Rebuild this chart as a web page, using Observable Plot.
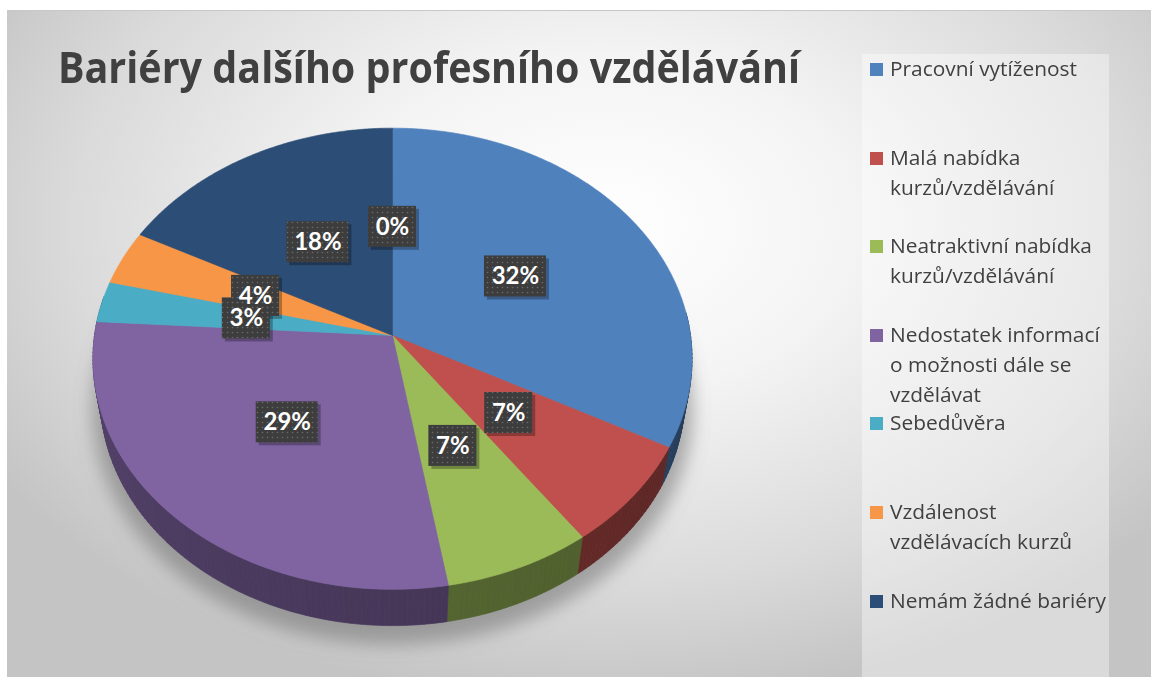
<!DOCTYPE html>
<html>
<head>
<meta charset="utf-8">
<script src="https://cdn.jsdelivr.net/npm/d3@7"></script>
<script src="https://cdn.jsdelivr.net/npm/@observablehq/plot@0.6"></script>
<style>
  html, body { margin: 0; padding: 0; background: #ffffff; }
  #wrap { position: relative; width: 1151px; height: 677px; overflow: hidden; background: #ffffff; }
  #frame { position: absolute; left: 7px; top: 10px; width: 1144px; height: 667px;
    border-top: 1px solid #c8c8c8;
    background: radial-gradient(ellipse 62% 72% at 52% 32%, #ffffff 0%, #f4f4f4 35%, #dadada 75%, #c4c4c4 100%); }
  #panel { position: absolute; left: 862px; top: 54px; width: 247px; height: 623px; background: rgba(255,255,255,0.38); }
  #chart { position: absolute; left: 0; top: 0; }
  #title { position: absolute; left: 58px; top: 45px; font-family: "Open Sans", sans-serif; font-weight: 700;
    font-size: 43px; line-height: 43px; color: #404040; white-space: nowrap; transform-origin: 0 0; }
  #legend { position: absolute; left: 870px; top: 54px; font-family: "Open Sans", sans-serif; font-size: 20px;
    line-height: 30px; color: #404040; }
  .item { position: absolute; left: 0; height: 89px; }
  .sw { position: absolute; left: 0; top: 9px; width: 13px; height: 13px; }
  .txt { position: absolute; left: 20px; top: 0; white-space: pre; transform-origin: 0 0; }
</style>
</head>
<body>
<div id="wrap">
  <div id="frame"></div>
  <div id="panel"></div>
  <div id="chart"></div>
  <div id="title"></div>
  <div id="legend"></div>
</div>
<script>
// ---------------- data ----------------
const title = "Bariéry dalšího profesního vzdělávání";
const categories = [
  "Pracovní vytíženost",
  "Malá nabídka\nkurzů/vzdělávání",
  "Neatraktivní nabídka\nkurzů/vzdělávání",
  "Nedostatek informací\no možnosti dále se\nvzdělávat",
  "Sebedůvěra",
  "Vzdálenost\nvzdělávacích kurzů",
  "Nemám žádné bariéry",
  ""
];
const values = [32, 7, 7, 29, 3, 4, 18, 0];
const colors = ["#4F81BD", "#C0504D", "#9BBB59", "#8064A2", "#4BACC6", "#F79646", "#2C4D75", "#772C2A"];
const inLegend = [true, true, true, true, true, true, true, false];

// ---------------- geometry (3D perspective pie) ----------------
const W = 1151, H = 677;
const cx = 392, cy = 335, R = 298, tilt = 50 * Math.PI / 180, D = 1900, depth = 62;
const deg = Math.PI / 180;
function warp(t) { // slight perspective distortion of the viewing camera
  return t + 5 * deg * (1 - Math.cos(t)) / 2 - 1 * deg * Math.sin(t);
}
function proj(theta, r, z) {
  const t = warp(theta);
  const X = r * Math.sin(t), Y = -r * Math.cos(t);
  const v = Y * Math.sin(tilt) - z * Math.cos(tilt);
  const w = Y * Math.cos(tilt) + z * Math.sin(tilt);
  const s = D / (D - w);
  return [cx + X * s, cy + v * s];
}
const total = d3.sum(values);
let acc = 0;
const slices = values.map((v, i) => {
  const a0 = acc / total * 2 * Math.PI; acc += v;
  const a1 = acc / total * 2 * Math.PI;
  return {i, v, a0, a1, mid: v > 0 ? (a0 + a1) / 2 : a0};
});

const step = deg;
// shadow under the pie
const shadowRows = [];
for (let k = 0; k <= 360; k++) {
  const [x, y] = proj(k * step, R * 1.03, -depth - 8);
  shadowRows.push({id: "sh", x, y: y + 6});
}
// side walls (front facing part)
const sideRows = [];
const visLo = Math.PI / 2 - 0.12, visHi = 3 * Math.PI / 2 + 0.12;
slices.forEach(s => {
  if (s.v <= 0) return;
  const lo = Math.max(s.a0, visLo), hi = Math.min(s.a1, visHi);
  if (hi <= lo) return;
  const n = Math.max(1, Math.ceil((hi - lo) / step));
  for (let k = 0; k < n; k++) {
    const t0 = lo + (hi - lo) * k / n, t1 = lo + (hi - lo) * (k + 1) / n;
    const tm = (t0 + t1) / 2;
    const f = 1.15 + 1.0 * Math.min(1, Math.max(0, (3 * Math.PI / 2 - tm) / Math.PI));
    const c = d3.color(colors[s.i]).darker(f).formatHex();
    const id = "s" + s.i + "_" + k;
    const pts = [proj(t0, R, 0), proj(t1, R, 0), proj(t1, R, -depth), proj(t0, R, -depth), proj(t0, R, 0)];
    pts.forEach(([x, y]) => sideRows.push({id, x, y, c}));
  }
});
// top faces
const topRows = [];
slices.forEach(s => {
  if (s.v <= 0) return;
  const n = Math.max(2, Math.ceil((s.a1 - s.a0) / (step / 2)));
  const [hx, hy] = proj(0, 0, 0);
  topRows.push({id: "t" + s.i, x: hx, y: hy, c: colors[s.i]});
  for (let k = 0; k <= n; k++) {
    const t = s.a0 + (s.a1 - s.a0) * k / n;
    const [x, y] = proj(t, R, 0);
    topRows.push({id: "t" + s.i, x, y, c: colors[s.i]});
  }
  topRows.push({id: "t" + s.i, x: hx, y: hy, c: colors[s.i]});
});
// data labels
const labels = slices.map(s => {
  const [x, y] = proj(s.mid, R * 0.5, 0);
  const text = s.v + "%";
  const hw = (20 + 14 * text.length) / 2, hh = 20.5;
  return {x, y, text, x1: x - hw, x2: x + hw, y1: y - hh, y2: y + hh};
});

// ---------------- plot ----------------
const plot = Plot.plot({
  width: W, height: H, margin: 0,
  x: {domain: [0, W], range: [0, W], axis: null},
  y: {domain: [0, H], range: [0, H], axis: null},
  color: {type: "identity"},
  style: {background: "transparent"},
  marks: [
    Plot.line(shadowRows, {x: "x", y: "y", z: "id", fill: "#6e6e6e", fillOpacity: 0.55, stroke: "none"}),
    Plot.line(sideRows, {x: "x", y: "y", z: "id", fill: "c", stroke: "c", strokeWidth: 0.7, curve: "linear"}),
    Plot.line(topRows, {x: "x", y: "y", z: "id", fill: "c", stroke: "c", strokeWidth: 0.6, curve: "linear"}),
    Plot.rect(labels, {x1: d => d.x1 + 3, x2: d => d.x2 + 3, y1: d => d.y1 + 3, y2: d => d.y2 + 3, fill: "#000000", fillOpacity: 0.28}),
    Plot.rect(labels, {x1: "x1", x2: "x2", y1: "y1", y2: "y2", fill: "#3d3d3d"}),
    Plot.rect(labels, {x1: "x1", x2: "x2", y1: "y1", y2: "y2", fill: "url(#dots)"}),
    Plot.text(labels, {x: "x", y: "y", text: "text", fill: "#ffffff", fontSize: 24, fontWeight: 700, fontFamily: "Lato, 'Open Sans', sans-serif"})
  ]
});
document.getElementById("chart").appendChild(plot);

// defs: blur for the shadow and dotted texture for label boxes
const svg = d3.select(plot);
const defs = svg.insert("defs", ":first-child");
defs.append("filter").attr("id", "blur").attr("x", "-20%").attr("y", "-20%").attr("width", "140%").attr("height", "140%")
  .append("feGaussianBlur").attr("stdDeviation", 9);
const pat = defs.append("pattern").attr("id", "dots").attr("patternUnits", "userSpaceOnUse").attr("width", 5).attr("height", 5);
pat.append("circle").attr("cx", 2.5).attr("cy", 2.5).attr("r", 0.8).attr("fill", "#6a6a6a");
svg.select('g[aria-label="line"]').attr("filter", "url(#blur)");

// ---------------- title ----------------
const tEl = document.getElementById("title");
tEl.textContent = title;
const ctx = document.createElement("canvas").getContext("2d");
ctx.font = "700 43px 'Open Sans'";
tEl.style.transform = `scaleX(${742 / ctx.measureText(title).width})`;

// ---------------- legend ----------------
ctx.font = "20px 'Open Sans'";
const lscale = 187 / ctx.measureText(categories[0]).width;
const leg = d3.select("#legend");
categories.forEach((c, i) => {
  if (!inLegend[i]) return;
  const it = leg.append("div").attr("class", "item").style("top", (i * 88.6) + "px");
  it.append("div").attr("class", "sw").style("background", colors[i]);
  it.append("div").attr("class", "txt").style("transform", `scaleX(${lscale})`).text(c);
});
</script>
</body>
</html>
